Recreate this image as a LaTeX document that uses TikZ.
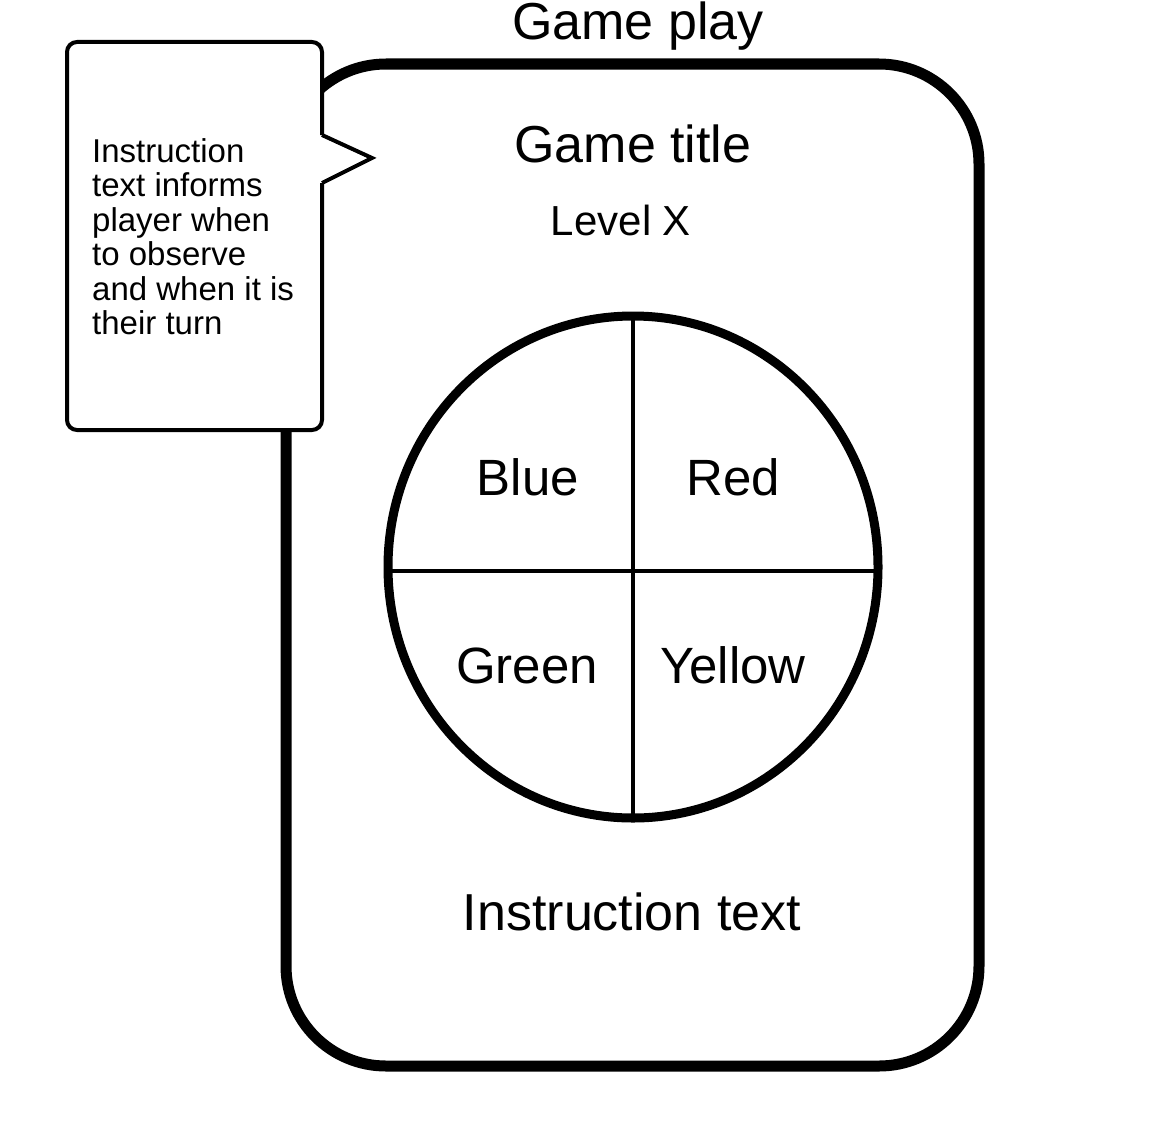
\documentclass[tikz,border=0pt]{standalone}
\usepackage{fontspec}
\setmainfont{Liberation Sans}
\usetikzlibrary{shapes.geometric}
\begin{document}
\begin{tikzpicture}[x=1pt,y=-1pt,
  frame/.style={line width=11pt, rounded corners=100pt},
  wheel/.style={line width=9pt},
  divider/.style={line width=4pt},
  bubble/.style={line width=4pt, fill=white, line join=miter},
  big/.style={font=\fontsize{52}{60}\selectfont, anchor=base, inner sep=0pt},
  label/.style={font=\fontsize{51}{58}\selectfont, anchor=base, inner sep=0pt},
  mid/.style={font=\fontsize{42}{48}\selectfont, anchor=base, inner sep=0pt},
  small/.style={font=\fontsize{33}{34.5}\selectfont, anchor=north west, inner sep=0pt, align=left}]
\useasboundingbox (0,0) rectangle (1150,1124);
\fill[white] (0,0) rectangle (1150,1124);

% game screen outline
\draw[frame] (286,64) rectangle (979,1066);
\node[big] (play) at (638,40) {Game play};
\node[big] (title) at (633,162) {Game title};
\node[mid] (level) at (621,235) {Level X};

% colour wheel with four quadrants
\coordinate (c) at (633,567);
\draw[wheel] (c) ellipse [x radius=245, y radius=251];
\draw[divider] (633,316) -- (633,818);
\draw[divider] (388,571) -- (878,571);
\node[label] (blue) at (528,495) {Blue};
\node[label] (red) at (733,495) {Red};
\node[label] (green) at (527,683) {Green};
\node[label] (yellow) at (733,683) {Yellow};

\node[big] (instr) at (632,930) {Instruction text};

% speech bubble with pointer
\draw[bubble, rounded corners=10pt] (322,135) -- (322,42) -- (67,42) -- (67,430) -- (322,430) -- (322,183);
\draw[bubble] (322,183) -- (372,158) -- (322,135);
\fill[white] (320,137) -- (366,158) -- (320,181) -- cycle;
\node[small] (note) at (92,138) {Instruction\\text informs\\player when\\to observe\\and when it is\\their turn};
\end{tikzpicture}
\end{document}
